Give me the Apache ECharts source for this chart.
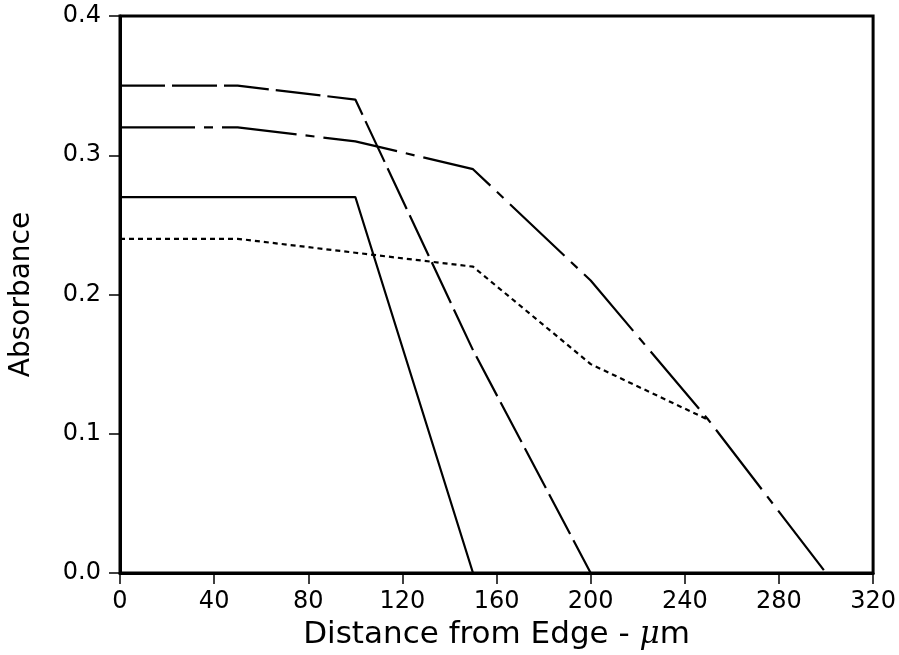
<!DOCTYPE html>
<html>
<head>
<meta charset="utf-8">
<script src="https://cdn.jsdelivr.net/npm/echarts@6/dist/echarts.min.js"></script>
<style>
  html, body { margin: 0; padding: 0; background: #fff; }
  #chart { width: 899px; height: 655px; }
</style>
</head>
<body>
<div id="chart"></div>
<script type="text/javascript">
    // distance from edge (um) at which each profile was sampled
    var distance = [0, 50, 100, 150, 200, 250, 300];

    // absorbance profiles, one value per distance (shorter ones stop early)
    var solidCurve   = [0.27, 0.27, 0.27, 0.00];
    var dashedCurve  = [0.35, 0.35, 0.34, 0.16, 0.00];
    var dashDotCurve = [0.32, 0.32, 0.31, 0.29, 0.21, 0.11, 0.00];
    var dottedCurve  = [0.24, 0.24, 0.23, 0.22, 0.15, 0.11];

    var xTicks = [0, 40, 80, 120, 160, 200, 240, 280, 320];
    var yTicks = [0.0, 0.1, 0.2, 0.3, 0.4];

    function pairs(vals) {
        return vals.map(function (v, i) { return [distance[i], v]; });
    }

    function curve(name, vals, dash) {
        return {
            name: name,
            type: 'line',
            symbol: 'none',
            data: pairs(vals),
            lineStyle: { color: '#000', width: 2.2, type: dash },
            z: 3
        };
    }

    var font = 'DejaVu Sans';

    var myChart = echarts.init(document.getElementById('chart'));
    var option = {
        animation: false,
        backgroundColor: '#fff',
        grid: {
            left: 118, right: 24, top: 16, bottom: 78,
            show: true, borderColor: '#000', borderWidth: 3
        },
        xAxis: {
            type: 'value',
            min: xTicks[0],
            max: xTicks[xTicks.length - 1],
            interval: 40,
            name: 'Distance from Edge - {mu|\u03bc}m',
            nameLocation: 'middle',
            nameGap: 46,
            nameTextStyle: {
                fontFamily: font, fontSize: 31, color: '#000',
                rich: { mu: { fontFamily: 'DejaVu Serif', fontStyle: 'italic', fontSize: 31, color: '#000' } }
            },
            axisLine: { lineStyle: { color: '#000', width: 3 } },
            axisTick: { inside: false, length: 11, lineStyle: { color: '#000', width: 1.5 } },
            axisLabel: { margin: 17, fontFamily: font, color: '#000', fontSize: 24 },
            splitLine: { show: false }
        },
        yAxis: {
            type: 'value',
            min: yTicks[0],
            max: yTicks[yTicks.length - 1],
            interval: 0.1,
            name: 'Absorbance',
            nameLocation: 'middle',
            nameGap: 84,
            nameTextStyle: { fontFamily: font, fontSize: 28, color: '#000' },
            axisLine: { show: true, lineStyle: { color: '#000', width: 3 } },
            axisTick: { show: true, inside: false, length: 11, lineStyle: { color: '#000', width: 1.5 } },
            axisLabel: {
                margin: 19, fontFamily: font, color: '#000', fontSize: 24,
                formatter: function (v) { return v.toFixed(1); }
            },
            splitLine: { show: false }
        },
        series: [
            curve('solid', solidCurve, 'solid'),
            curve('dashed', dashedCurve, [45, 7]),
            curve('dash-dot', dashDotCurve, [75, 9, 9, 9]),
            curve('dotted', dottedCurve, [5, 4])
        ]
    };
    myChart.setOption(option);
</script>
</body>
</html>
